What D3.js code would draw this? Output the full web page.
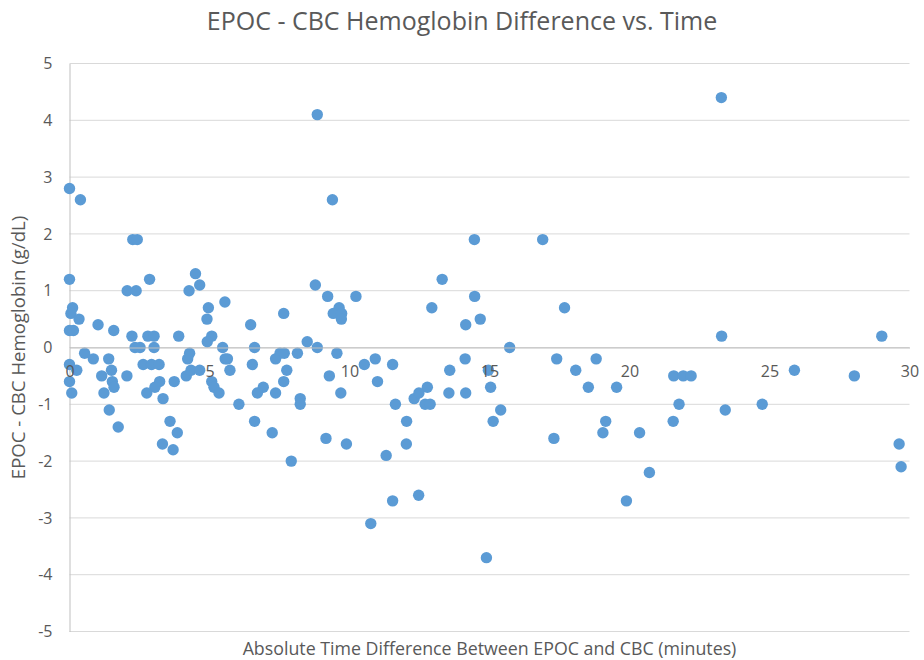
<!DOCTYPE html>
<html lang="en">
<head>
    <meta charset="UTF-8">
    <title>EPOC - CBC Hemoglobin Difference vs. Time</title>
    <script src="https://d3js.org/d3.v7.min.js"></script>
    <style>
        body {
            margin: 0;
            background: #fff;
        }
        .chart text {
            font-family: "Open Sans", sans-serif;
            fill: #595959;
        }
        .grid line {
            stroke: #d9d9d9;
            stroke-width: 1;
        }
        .axis path {
            stroke: #bfbfbf;
        }
        .dot {
            fill: #5b9bd5;
        }
    </style>
</head>
<body>
    <div class="chart" id="chart"></div>

    <script>
        // Datos (minutos, g/dL)
        const timeDiff = [
            0, 0.39, 2.26, 2.42, 0, 2.86, 2.06, 2.38, 4.5, 4.65, 4.27, 4.96, 5.55, 4.91, 0.11, 0.05, 0.34, 0, 0.14, 1.02, 1.58,
            2.23, 2.8, 3.02, 3.9, 5.08, 4.92, 2.34, 2.52, 3.02, 5.47, 0.54, 0.85, 1.4, 0, 0.26, 0, 0.08, 1.15, 1.5, 1.53, 1.59,
            1.23, 1.42, 1.74, 2.05, 2.63, 2.93, 3.2, 3.22, 3.05, 2.76, 3.34, 3.74, 3.59, 3.85, 3.32, 3.7, 4.17, 4.22, 4.29, 4.34,
            4.65, 5.08, 5.16, 5.34, 5.56, 5.64, 5.73,
            9.39, 8.78, 9.22, 10.23, 9.63, 9.42, 9.72, 9.71, 7.65, 6.47,
            8.49, 8.85, 6.61, 6.53, 7.36, 7.52, 7.67, 8.14, 7.76, 7.65, 6.92, 6.71, 7.36, 6.05, 8.24, 8.24, 6.61, 7.24, 7.92,
            9.55, 9.28, 9.69, 9.16, 9.89, 10.53, 10.92, 11.54, 11.0, 11.64, 12.31, 12.04, 12.03, 11.31,
            14.46, 16.9, 13.31, 14.47, 12.94, 17.68, 14.67, 14.15,
            15.72, 17.4, 14.13, 13.58, 14.96, 12.78, 12.48, 12.7, 12.88, 13.55, 14.15, 15.04, 15.4, 15.13, 17.3,
            8.85, 11.54, 12.47, 10.76, 14.89,
            23.29, 18.08, 18.81, 18.53, 19.54, 21.58, 21.92, 22.2, 21.77, 23.42, 19.15, 21.56,
            23.28, 29.01, 25.89, 28.03, 24.74,
            19.05, 20.36, 20.71, 19.89, 29.63, 29.7
        ];
        const hbDiff = [
            2.8, 2.6, 1.9, 1.9, 1.2, 1.2, 1.0, 1.0, 1.3, 1.1, 1.0, 0.7, 0.8, 0.5, 0.7, 0.6, 0.5, 0.3, 0.3, 0.4, 0.3,
            0.2, 0.2, 0.2, 0.2, 0.2, 0.1, 0, 0, 0, 0, -0.1, -0.2, -0.2, -0.3, -0.4, -0.6, -0.8, -0.5, -0.4, -0.6, -0.7,
            -0.8, -1.1, -1.4, -0.5, -0.3, -0.3, -0.3, -0.6, -0.7, -0.8, -0.9, -0.6, -1.3, -1.5, -1.7, -1.8, -0.5, -0.2, -0.1, -0.4,
            -0.4, -0.6, -0.7, -0.8, -0.2, -0.2, -0.4,
            2.6, 1.1, 0.9, 0.9, 0.7, 0.6, 0.6, 0.5, 0.6, 0.4,
            0.1, 0, 0, -0.3, -0.2, -0.1, -0.1, -0.1, -0.4, -0.6, -0.7, -0.8, -0.8, -1.0, -0.9, -1.0, -1.3, -1.5, -2.0,
            -0.1, -0.5, -0.8, -1.6, -1.7, -0.3, -0.2, -0.3, -0.6, -1.0, -0.9, -1.3, -1.7, -1.9,
            1.9, 1.9, 1.2, 0.9, 0.7, 0.7, 0.5, 0.4,
            0, -0.2, -0.2, -0.4, -0.4, -0.7, -0.8, -1.0, -1.0, -0.8, -0.8, -0.7, -1.1, -1.3, -1.6,
            4.1, -2.7, -2.6, -3.1, -3.7,
            0.2, -0.4, -0.2, -0.7, -0.7, -0.5, -0.5, -0.5, -1.0, -1.1, -1.3, -1.3,
            4.4, 0.2, -0.4, -0.5, -1.0,
            -1.5, -1.5, -2.2, -2.7, -1.7, -2.1
        ];
        const xTicks = [0, 5, 10, 15, 20, 25, 30];
        const yTicks = [-5, -4, -3, -2, -1, 0, 1, 2, 3, 4, 5];

        const data = timeDiff.map((t, i) => ({ time: t, hb: hbDiff[i] }));

        // Configuración del gráfico
        const width = 924;
        const height = 660;
        const plot = { left: 69.5, right: 909.5, top: 63.5, bottom: 631.5 };

        const svg = d3.select("#chart")
            .append("svg")
            .attr("width", width)
            .attr("height", height);

        const x = d3.scaleLinear().domain([0, 30]).range([plot.left, plot.right]);
        const y = d3.scaleLinear().domain([-5, 5]).range([plot.bottom, plot.top]);

        // Líneas de cuadrícula horizontales
        svg.append("g")
            .attr("class", "grid")
            .selectAll("line")
            .data(yTicks)
            .enter().append("line")
            .attr("x1", plot.left)
            .attr("x2", plot.right)
            .attr("y1", d => y(d))
            .attr("y2", d => y(d));

        // Eje Y (guion normal, como en Excel)
        svg.append("g")
            .attr("class", "axis")
            .attr("transform", `translate(${plot.left},0)`)
            .call(d3.axisLeft(y).tickValues(yTicks).tickSize(0).tickPadding(17).tickFormat(d => String(d)))
            .call(g => g.selectAll("text").style("font-size", "16px"));

        // Puntos
        svg.append("g")
            .selectAll("circle")
            .data(data)
            .enter().append("circle")
            .attr("class", "dot")
            .attr("cx", d => x(d.time))
            .attr("cy", d => y(d.hb))
            .attr("r", 5.7);

        // Eje X cruza en 0
        svg.append("g")
            .attr("class", "axis")
            .attr("transform", `translate(0,${y(0)})`)
            .call(d3.axisBottom(x).tickValues(xTicks).tickSize(0).tickPadding(18.5).tickFormat(d => String(d)))
            .call(g => g.selectAll("text").style("font-size", "16px"));

        // Títulos
        svg.append("text")
            .attr("x", width / 2)
            .attr("y", 29.5)
            .attr("text-anchor", "middle")
            .style("font-size", "25px")
            .text("EPOC - CBC Hemoglobin Difference vs. Time");

        svg.append("text")
            .attr("transform", `translate(25,${y(0)}) rotate(-90)`)
            .attr("text-anchor", "middle")
            .style("font-size", "18.6px")
            .text("EPOC - CBC Hemoglobin (g/dL)");

        svg.append("text")
            .attr("x", (plot.left + plot.right) / 2)
            .attr("y", 654.5)
            .attr("text-anchor", "middle")
            .style("font-size", "17.8px")
            .text("Absolute Time Difference Between EPOC and CBC (minutes)");
    </script>
</body>
</html>
